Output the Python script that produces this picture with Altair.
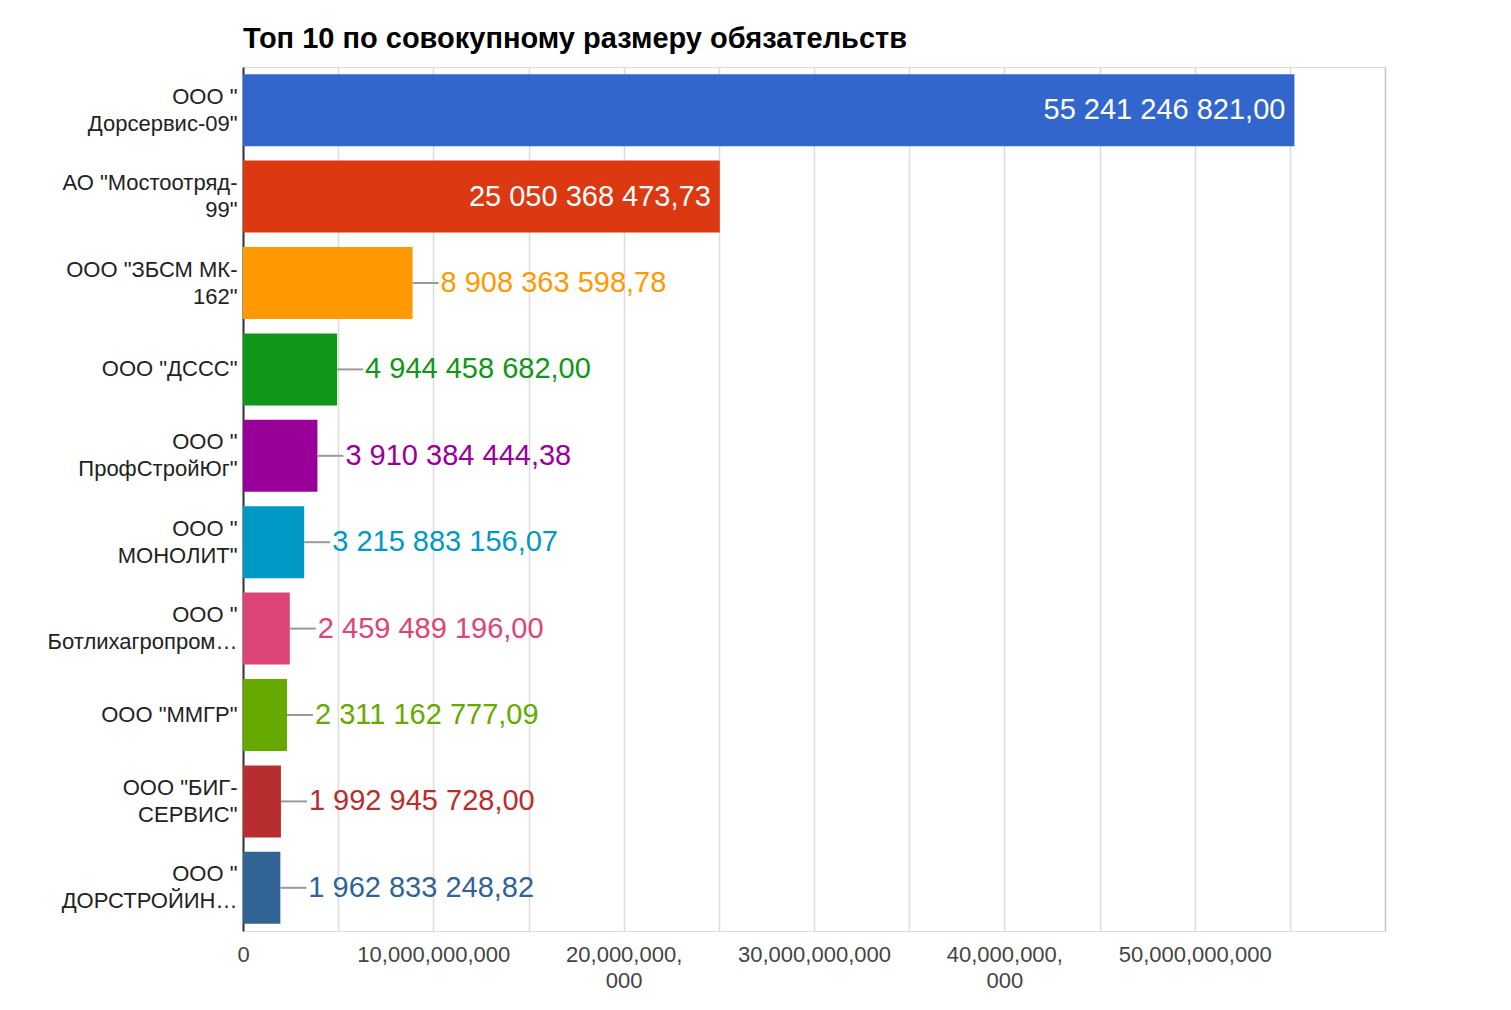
import altair as alt
import pandas as pd

names = [
    "ООО \"|Дорсервис-09\"",
    "АО \"Мостоотряд-|99\"",
    "ООО \"ЗБСМ МК-|162\"",
    "ООО \"ДССС\"",
    "ООО \"|ПрофСтройЮг\"",
    "ООО \"|МОНОЛИТ\"",
    "ООО \"|Ботлихагропром…",
    "ООО \"ММГР\"",
    "ООО \"БИГ-|СЕРВИС\"",
    "ООО \"|ДОРСТРОЙИН…",
]
values = [
    55241246821.00, 25050368473.73, 8908363598.78, 4944458682.00,
    3910384444.38, 3215883156.07, 2459489196.00, 2311162777.09,
    1992945728.00, 1962833248.82,
]
colors = ["#3366cc", "#dc3912", "#ff9900", "#109618", "#990099",
          "#0099c6", "#dd4477", "#66aa00", "#b82e2e", "#316395"]

grid_values = [0, 5e9, 1e10, 1.5e10, 2e10, 2.5e10, 3e10, 3.5e10, 4e10, 4.5e10, 5e10, 5.5e10, 6e10]
tick_label_values = [0, 1e10, 2e10, 3e10, 4e10, 5e10]
tick_label_texts = ["0", "10,000,000,000", "20,000,000,|000", "30,000,000,000", "40,000,000,|000", "50,000,000,000"]

def fmt(v):
    return f"{v:,.2f}".replace(",", " ").replace(".", ",")

df = pd.DataFrame({
    "name": names,
    "value": values,
    "label": [fmt(v) for v in values],
    "inside": [v > 2e10 for v in values],
})

expr = "''"
for v, t in reversed(list(zip(tick_label_values, tick_label_texts))):
    expr = f"datum.value == {int(v)} ? '{t}' : ({expr})"
x_label_expr = f"split({expr}, '|')"

FONT = "Liberation Sans"

y_enc = alt.Y(
    "name:N", sort=names, title=None,
    scale=alt.Scale(paddingInner=1/6, paddingOuter=1/12),
    axis=alt.Axis(
        labelExpr="split(datum.label, '|')",
        labelFontSize=22, labelColor="#222222", labelFont=FONT,
        labelLineHeight=27, labelPadding=6, labelLimit=300,
        labelOffset={"condition": {"test": "indexof(datum.value, '|') >= 0", "value": -13.5}, "value": 0},
        ticks=False, grid=False, domain=True,
        domainColor="#333333", domainWidth=2,
    ),
)
x_enc = alt.X(
    "value:Q", title=None,
    scale=alt.Scale(domain=[0, 6e10], nice=False),
    axis=alt.Axis(
        values=grid_values, labelExpr=x_label_expr,
        labelFontSize=22, labelColor="#444444", labelFont=FONT,
        labelLineHeight=26, labelPadding=13, labelOverlap=False,
        labelFlush=False,
        ticks=False, domain=False, grid=True,
        gridColor={"condition": {"test": "datum.value == 60000000000", "value": "#c4c4c4"}, "value": "#dcdcdc"},
        gridWidth=1.5,
    ),
)
color_enc = alt.Color("name:N", scale=alt.Scale(domain=names, range=colors), legend=None)

base = alt.Chart(df)

bars = base.mark_bar().encode(y=y_enc, x=x_enc, color=color_enc)

outside = base.transform_filter("!datum.inside")

connectors = outside.mark_rule(color="#999999", strokeWidth=2, x2Offset=26).encode(
    y=alt.Y("name:N", sort=names),
    x=alt.X("value:Q"),
    x2="value:Q",
)

out_text = outside.mark_text(align="left", baseline="middle", dx=28, fontSize=29, font=FONT).encode(
    y=alt.Y("name:N", sort=names),
    x=alt.X("value:Q"),
    text="label:N",
    color=color_enc,
)

in_text = base.transform_filter("datum.inside").mark_text(
    align="right", baseline="middle", dx=-9, fontSize=29, font=FONT, color="white"
).encode(
    y=alt.Y("name:N", sort=names),
    x=alt.X("value:Q"),
    text="label:N",
)

chart = alt.layer(bars, connectors, out_text, in_text).properties(
    width=1142,
    height=864,
    title=alt.Title(
        "Топ 10 по совокупному размеру обязательств",
        anchor="start", frame="group", fontSize=29, fontWeight="bold", font=FONT,
        color="#000000", offset=13,
    ),
    autosize=alt.AutoSizeParams(type="none"),
    padding={"left": 235, "top": 59, "right": 110, "bottom": 72},
).configure_view(stroke="transparent", strokeWidth=0).configure(background="white")

chart.save("out.html", embed_options={"renderer": "svg", "actions": False})
